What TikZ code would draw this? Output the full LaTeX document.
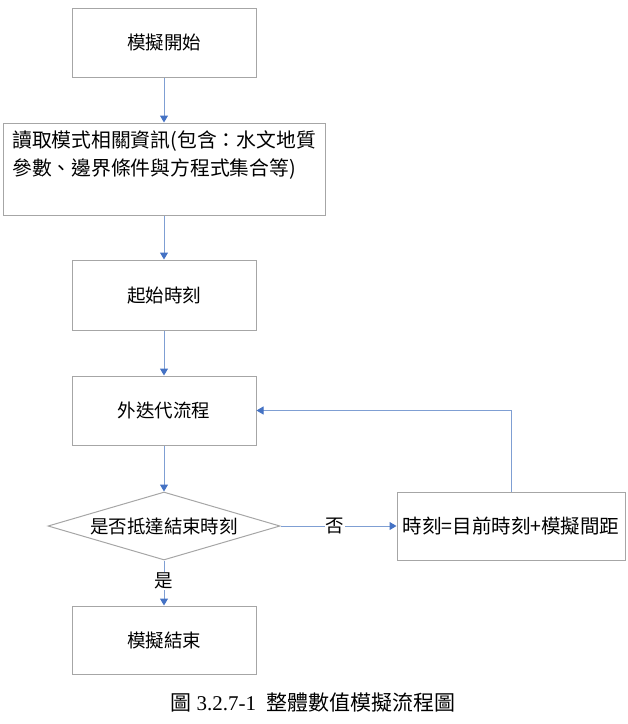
\documentclass[tikz,border=0pt]{standalone}
\usepackage{fontspec}
\setmainfont{Liberation Serif}
\newfontfamily\cjk{Noto Sans CJK TC}
\usetikzlibrary{arrows.meta,shapes.geometric}
\definecolor{boxgray}{HTML}{A6A6A6}
\definecolor{linkblue}{HTML}{7F9FD3}
\definecolor{tipblue}{HTML}{4472C4}
\tikzset{
  box/.style={draw=boxgray,line width=1pt,rectangle,inner sep=0pt,font=\cjk\fontsize{18.5}{22}\selectfont},
  dia/.style={draw=boxgray,line width=1pt,diamond,aspect=3,inner sep=0pt,minimum width=232pt,minimum height=68pt,font=\cjk\fontsize{18.5}{22}\selectfont},
  link/.style={draw=linkblue,line width=1pt,-{Triangle[width=8pt,length=7pt,color=tipblue]}},
  lbl/.style={font=\cjk\fontsize{18.5}{22}\selectfont,inner sep=1pt}
}
\begin{document}
\begin{tikzpicture}[x=1pt,y=-1pt]
\useasboundingbox (0,0) rectangle (628,724);
\node[box,minimum width=184pt,minimum height=69pt] (b1) at (164,42.5) {模擬開始};
\node[box,minimum width=322pt,minimum height=92pt] (b2) at (164,169) {};
\node[anchor=north west,align=left,inner sep=0pt,font=\cjk\fontsize{19.8}{28}\selectfont] (b2t) at (12,131) {讀取模式相關資訊(包含：水文地質\\參數、邊界條件與方程式集合等)};
\node[box,minimum width=184pt,minimum height=70pt] (b3) at (164,295) {起始時刻};
\node[box,minimum width=184pt,minimum height=69pt] (b4) at (164,410.5) {外迭代流程};
\node[dia] (d) at (164,526) {是否抵達結束時刻};
\node[box,minimum width=228pt,minimum height=68pt,font=\cjk\fontsize{19.5}{22}\selectfont] (r) at (511,526) {時刻=目前時刻+模擬間距};
\node[box,minimum width=184pt,minimum height=68pt] (b6) at (164,640) {模擬結束};
\node[font=\fontsize{21}{24}\selectfont,inner sep=0pt] (cap) at (313,703) {{\cjk 圖} 3.2.7-1\hspace{0.5em}{\cjk 整體數值模擬流程圖}};
\path[link] (b1) -- (b2);
\path[link] (b2) -- (b3);
\path[link] (b3) -- (b4);
\path[link] (b4) -- (d);
\path[link] (d) -- node[lbl,fill=white,pos=0.47] (no) {否} (r);
\path[link] (d) -- node[lbl,fill=white,pos=0.45] (yes) {是} (b6);
\path[link] (r.north) |- (b4.east);
\end{tikzpicture}
\end{document}
